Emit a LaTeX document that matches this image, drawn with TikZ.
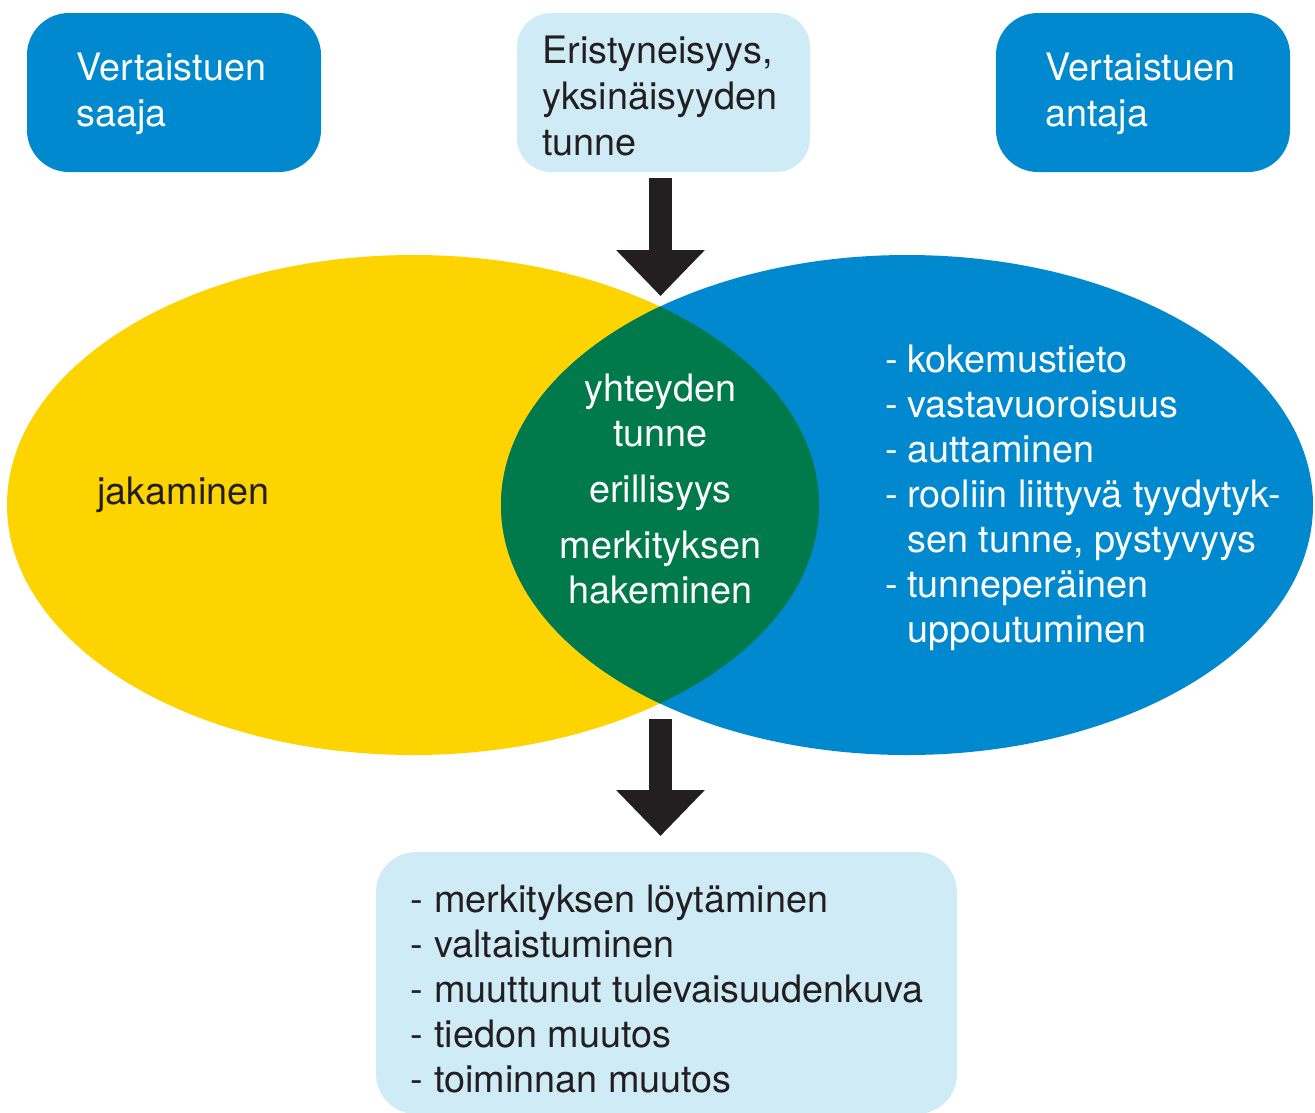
\documentclass[tikz,border=0pt]{standalone}
\usepackage{fontspec}
\setmainfont{TeX Gyre Heros}
\usetikzlibrary{arrows.meta}
\definecolor{peerblue}{RGB}{0,137,207}
\definecolor{peeryellow}{RGB}{253,211,0}
\definecolor{peergreen}{RGB}{0,122,74}
\definecolor{paleblue}{RGB}{207,236,246}
\definecolor{inkdark}{RGB}{35,31,32}
\begin{document}
\begin{tikzpicture}[x=1pt,y=-1pt,
  panel/.style={rectangle, inner sep=0pt, rounded corners=#1},
  darkpanel/.style={panel=42pt, fill=peerblue},
  lightpanel/.style={panel=34pt, fill=paleblue},
  txt/.style={anchor=base west, inner sep=0pt, font=\fontsize{37.8}{45}\selectfont},
  ctxt/.style={txt, anchor=base},
  bigarrow/.style={draw=inkdark, line width=23pt,
    -{Triangle[length=46pt,width=86pt]}}]
\clip (0,0) rectangle (1315,1112);
\useasboundingbox (0,0) rectangle (1315,1112);

% top boxes
\node[darkpanel, minimum width=294pt, minimum height=159pt] (saaja) at (174,92.5) {};
\node[lightpanel, minimum width=293pt, minimum height=159pt] (eri) at (663.5,92.5) {};
\node[darkpanel, minimum width=294pt, minimum height=159pt] (antaja) at (1143,92.5) {};

\node[txt, text=white] (saaja1) at (76,80) {Vertaistuen};
\node[txt, text=white] (saaja2) at (76,126) {saaja};
\node[txt, text=inkdark] (eri1) at (542,63) {Eristyneisyys,};
\node[txt, text=inkdark] (eri2) at (542,109) {yksinäisyyden};
\node[txt, text=inkdark] (eri3) at (542,155) {tunne};
\node[txt, text=white] (antaja1) at (1045,80) {Vertaistuen};
\node[txt, text=white] (antaja2) at (1045,126) {antaja};

% Venn diagram
\fill[peeryellow] (413,505) ellipse [x radius=406pt, y radius=250pt];
\fill[peerblue] (907,505) ellipse [x radius=406pt, y radius=250pt];
\begin{scope}
  \clip (413,505) ellipse [x radius=406pt, y radius=250pt];
  \fill[peergreen] (907,505) ellipse [x radius=406pt, y radius=250pt];
\end{scope}

\node[txt, text=inkdark] (jak) at (97,504) {jakaminen};

\node[ctxt, text=white] (mid1) at (660.5,401) {yhteyden};
\node[ctxt, text=white] (mid2) at (660.5,446) {tunne};
\node[ctxt, text=white] (mid3) at (660.5,502) {erillisyys};
\node[ctxt, text=white] (mid4) at (660.5,558) {merkityksen};
\node[ctxt, text=white] (mid5) at (660.5,603) {hakeminen};

\foreach \i/\y/\d/\t in {1/372/-/kokemustieto, 2/417/-/vastavuoroisuus,
    3/462/-/auttaminen, 4/507/-/rooliin liittyvä tyydytyk-,
    5/552//{sen tunne, pystyvyys}, 6/597/-/tunneperäinen, 7/642//uppoutuminen}{
  \node[txt, text=white] (gd\i) at (885,\y) {\d};
  \node[txt, text=white] (gt\i) at (907,\y) {\t};
}

% bottom box
\node[lightpanel, panel=40pt, minimum width=581pt, minimum height=262pt] (tulos) at (666.5,983) {};
\foreach \i/\y/\t in {1/912/merkityksen löytäminen, 2/957/valtaistuminen,
    3/1002/muuttunut tulevaisuudenkuva, 4/1047/tiedon muutos, 5/1092/toiminnan muutos}{
  \node[txt, text=inkdark] (bd\i) at (410,\y) {-};
  \node[txt, text=inkdark] (bt\i) at (434,\y) {\t};
}

% arrows
\coordinate (a1s) at (660.5,178);
\coordinate (a1e) at (660.5,296);
\coordinate (a2s) at (660.5,719);
\coordinate (a2e) at (660.5,836);
\draw[bigarrow] (a1s) -- (a1e);
\draw[bigarrow] (a2s) -- (a2e);
\end{tikzpicture}
\end{document}
